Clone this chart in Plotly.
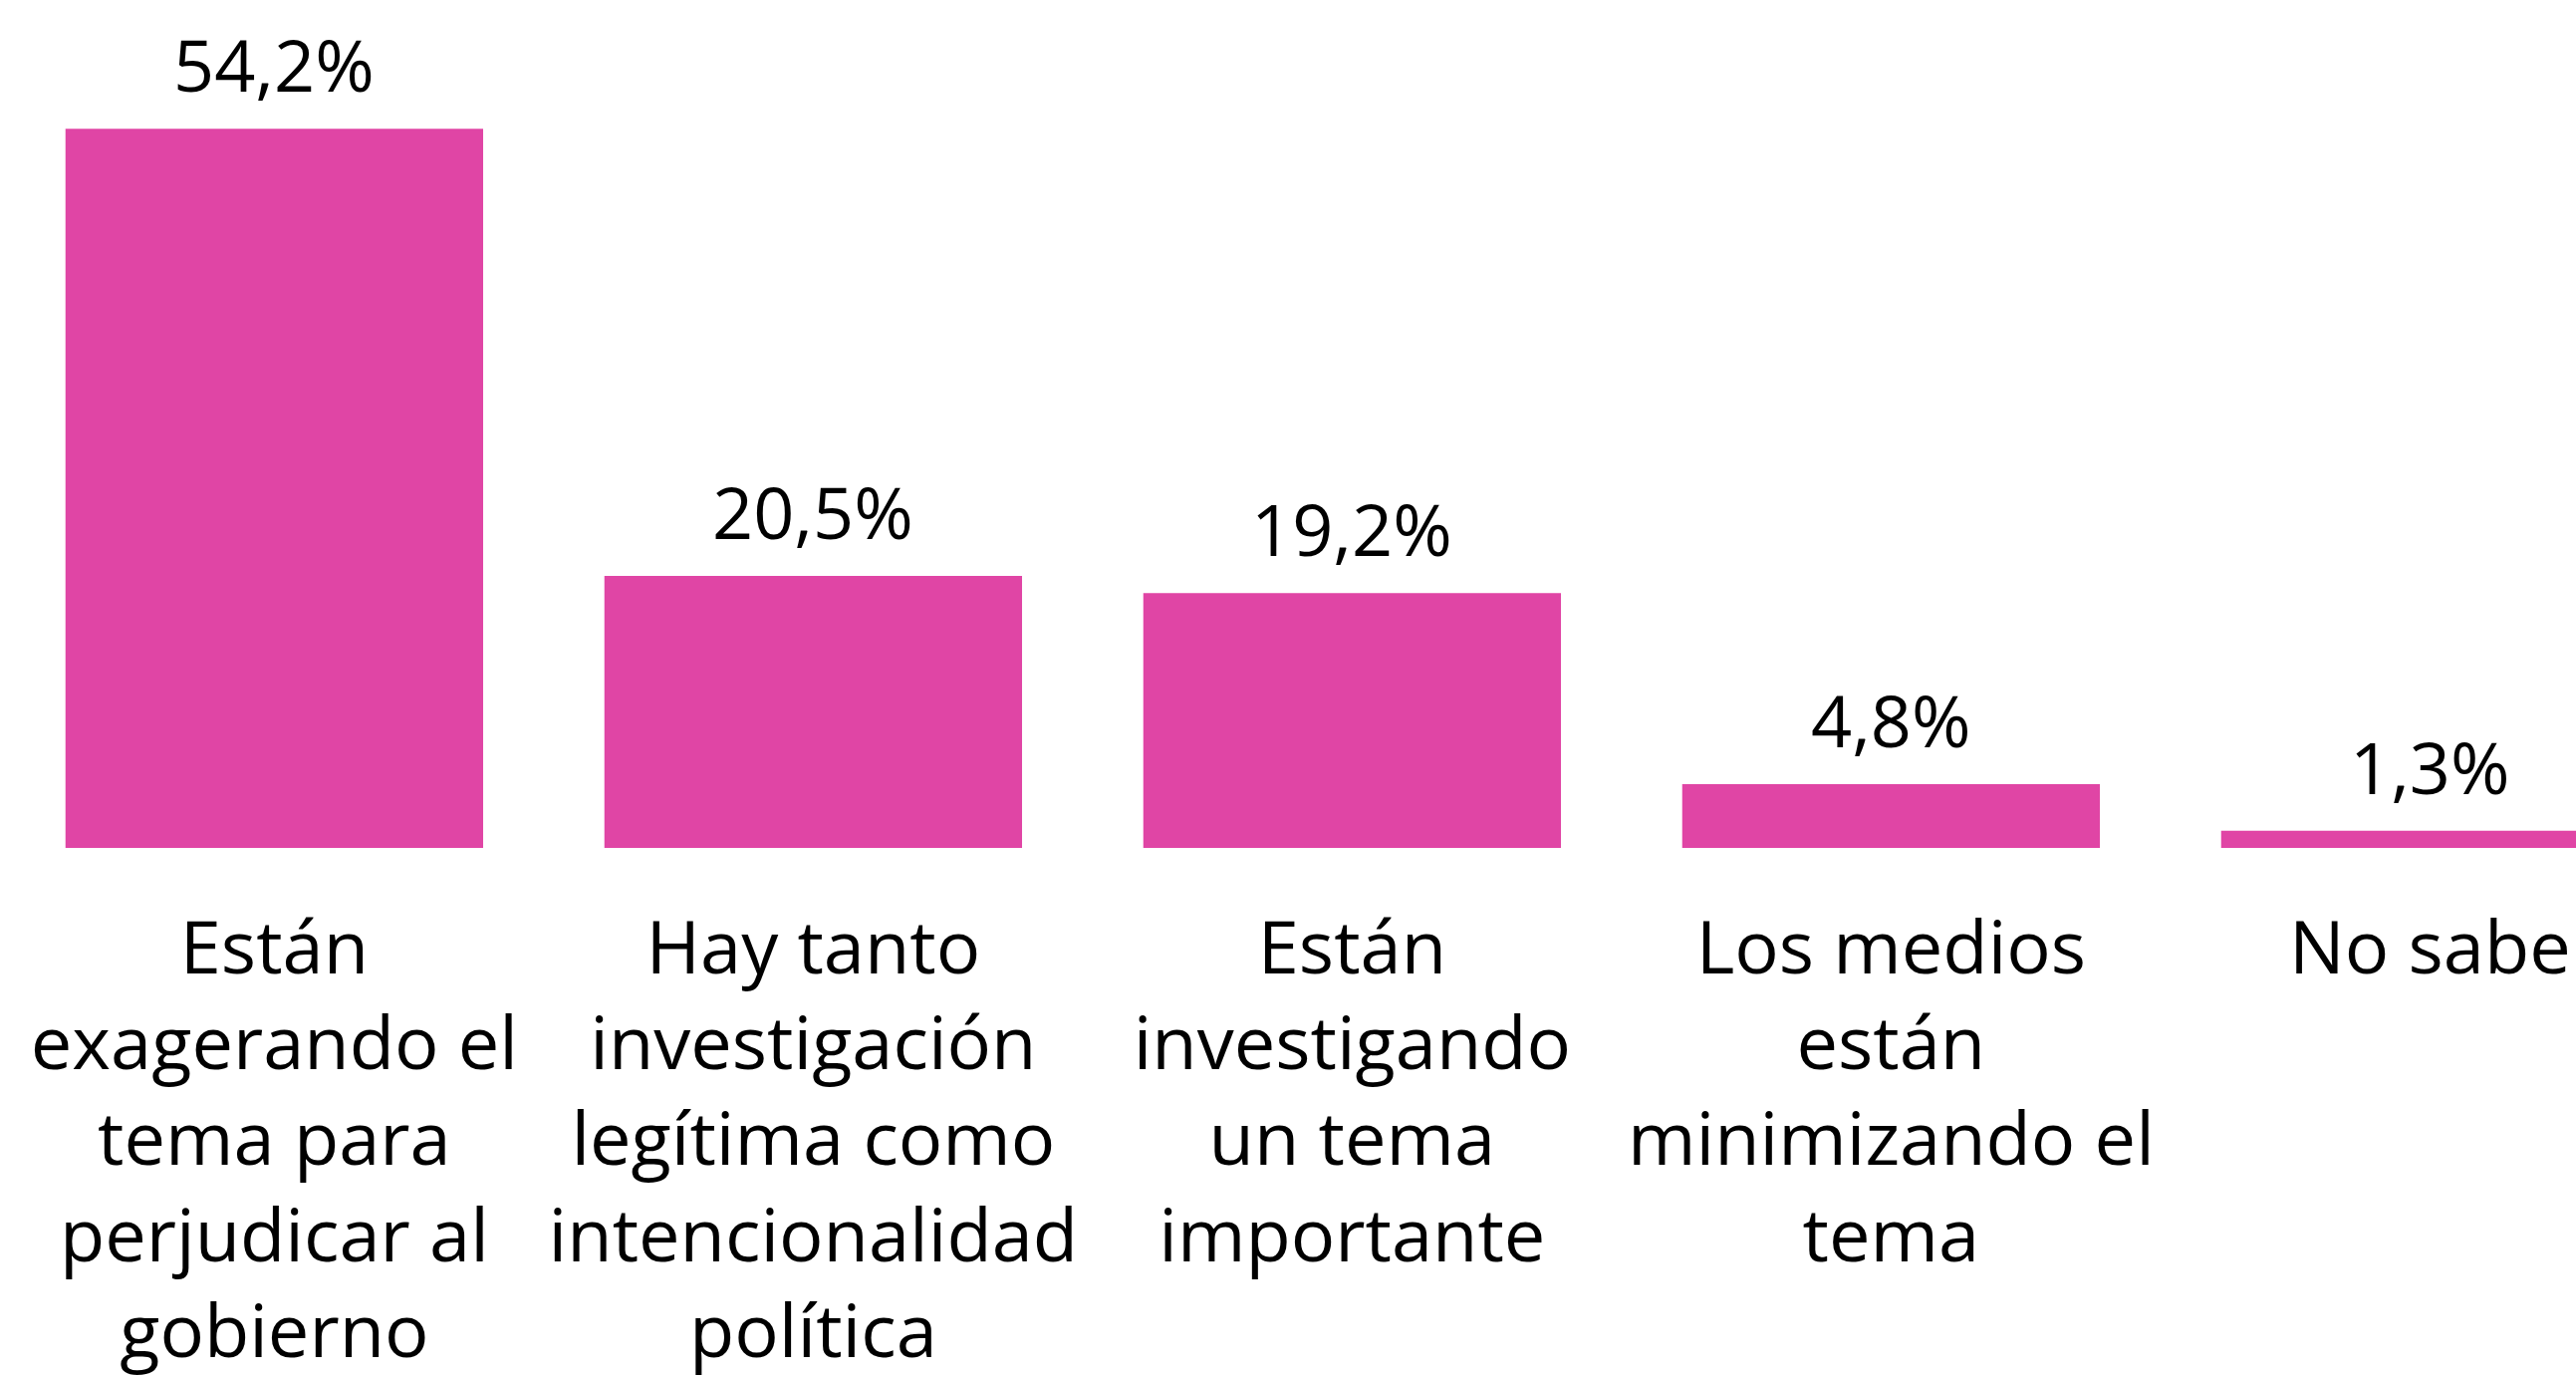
import plotly.graph_objects as go

# Survey answers and their shares (percent)
categories = [
    "Están<br>exagerando el<br>tema para<br>perjudicar al<br>gobierno",
    "Hay tanto<br>investigación<br>legítima como<br>intencionalidad<br>política",
    "Están<br>investigando<br>un tema<br>importante",
    "Los medios<br>están<br>minimizando el<br>tema",
    "No sabe",
]
values = [54.2, 20.5, 19.2, 4.8, 1.3]
value_labels = ["54,2%", "20,5%", "19,2%", "4,8%", "1,3%"]

BAR_COLOR = "#E045A5"
FONT = "Segoe UI, Open Sans, Noto Sans, sans-serif"
VALUE_SIZE = 72
TICK_SIZE = 74

fig = go.Figure(
    go.Bar(
        x=categories,
        y=values,
        marker=dict(color=BAR_COLOR, line=dict(width=0)),
        hoverinfo="skip",
    )
)

# Percentage labels above each bar
for cat, val, lab in zip(categories, values, value_labels):
    fig.add_annotation(
        x=cat, y=val, text=lab, showarrow=False,
        yanchor="bottom", yshift=14,
        font=dict(family=FONT, size=VALUE_SIZE, color="black"),
    )

fig.update_layout(
    width=2586, height=1381,
    margin=dict(l=0, r=0, t=0, b=530, autoexpand=False),
    paper_bgcolor="white", plot_bgcolor="white",
    bargap=0.225,
    showlegend=False,
    font=dict(family=FONT, size=VALUE_SIZE, color="black"),
)
fig.update_xaxes(
    range=[-0.509, 4.271], showgrid=False, showline=False, zeroline=False,
    ticks="", automargin=False, tickangle=0,
    tickfont=dict(family=FONT, size=TICK_SIZE, color="black"),
    ticklabelstandoff=51,
)
fig.update_yaxes(
    range=[0, 63.9], visible=False, showgrid=False, zeroline=False,
    automargin=False,
)

fig.write_html("out.html")
